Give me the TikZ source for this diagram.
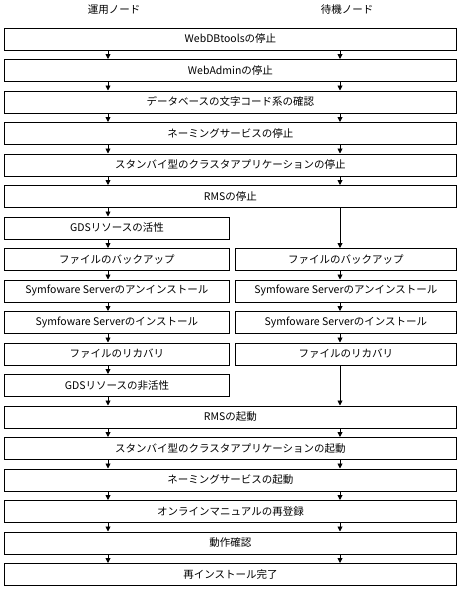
\documentclass[tikz,border=0pt]{standalone}
\usepackage{fontspec}
\newfontfamily\jp{Noto Sans CJK JP}
\usetikzlibrary{arrows.meta}
\begin{document}
\begin{tikzpicture}[x=1pt,y=1pt,
  txt/.style={font=\jp\fontsize{10.5}{12}\selectfont},
  full/.style={txt, draw, line width=0.9pt, minimum width=452pt, minimum height=22pt, inner sep=0pt, anchor=north west},
  lbox/.style={full, minimum width=225pt},
  rbox/.style={full, minimum width=221pt},
  arr/.style={line width=0.9pt, -{Triangle[length=5pt,width=5pt]}}]
\useasboundingbox (0,0) rectangle (460,-589);
\coordinate (lx) at (108,0);
\coordinate (rx) at (340,0);
\node[txt] (h1) at (114,-10) {運用ノード};
\node[txt] (h2) at (347,-10) {待機ノード};
\node[full] (b0) at (4,-27.5) {WebDBtoolsの停止};
\node[full] (b1) at (4,-59) {WebAdminの停止};
\node[full] (b2) at (4,-90.5) {データベースの文字コード系の確認};
\node[full] (b3) at (4,-122) {ネーミングサービスの停止};
\node[full] (b4) at (4,-153.5) {スタンバイ型のクラスタアプリケーションの停止};
\node[full] (b5) at (4,-185) {RMSの停止};
\node[lbox] (l6) at (4,-216.5) {GDSリソースの活性};
\node[lbox] (l7) at (4,-248) {ファイルのバックアップ};
\node[rbox] (r7) at (235,-248) {ファイルのバックアップ};
\node[lbox] (l8) at (4,-279.5) {Symfoware Serverのアンインストール};
\node[rbox] (r8) at (235,-279.5) {Symfoware Serverのアンインストール};
\node[lbox] (l9) at (4,-311) {Symfoware Serverのインストール};
\node[rbox] (r9) at (235,-311) {Symfoware Serverのインストール};
\node[lbox] (l10) at (4,-342.5) {ファイルのリカバリ};
\node[rbox] (r10) at (235,-342.5) {ファイルのリカバリ};
\node[lbox] (l11) at (4,-374) {GDSリソースの非活性};
\node[full] (b12) at (4,-405.5) {RMSの起動};
\node[full] (b13) at (4,-437) {スタンバイ型のクラスタアプリケーションの起動};
\node[full] (b14) at (4,-468.5) {ネーミングサービスの起動};
\node[full] (b15) at (4,-500) {オンラインマニュアルの再登録};
\node[full] (b16) at (4,-531.5) {動作確認};
\node[full] (b17) at (4,-563) {再インストール完了};
% both columns, full-width steps
\foreach \a/\b in {b0/b1,b1/b2,b2/b3,b3/b4,b4/b5,b12/b13,b13/b14,b14/b15,b15/b16,b16/b17}{
  \draw[arr] (\a.south -| lx) -- (\b.north -| lx);
  \draw[arr] (\a.south -| rx) -- (\b.north -| rx);
}
% operating node
\foreach \a/\b in {b5/l6,l6/l7,l7/l8,l8/l9,l9/l10,l10/l11,l11/b12}{
  \draw[arr] (\a.south -| lx) -- (\b.north -| lx);
}
% standby node
\foreach \a/\b in {b5/r7,r7/r8,r8/r9,r9/r10,r10/b12}{
  \draw[arr] (\a.south -| rx) -- (\b.north -| rx);
}
\end{tikzpicture}
\end{document}
